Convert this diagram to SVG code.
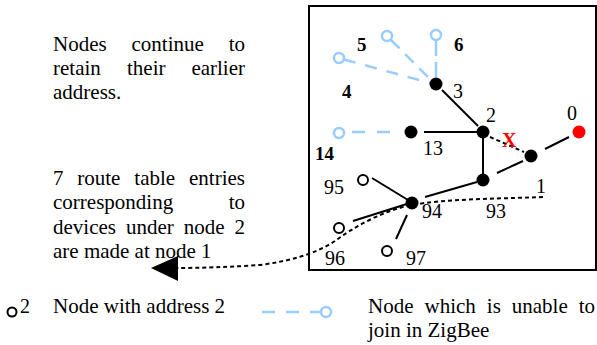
<svg xmlns="http://www.w3.org/2000/svg" width="597" height="345" viewBox="0 0 597 345">
<style>
.t,.n,.b,.x,.l{font-family:'Liberation Serif','Times New Roman',serif;fill:#000}
.t{font-size:21px}
.n{font-size:20px}
.l{font-size:20px}
.b{font-size:19px;font-weight:bold}
.x{font-size:20px;font-weight:bold;fill:#ff0000}
.e{stroke:#000;stroke-width:2;fill:none}
.dot{stroke:#000;stroke-width:2;fill:none;stroke-dasharray:4 3}
.blue{stroke:#99ccff;stroke-width:2.5;fill:none}
.bn{stroke:#99ccff;stroke-width:2.5;fill:#fff}
.on{stroke:#000;stroke-width:2;fill:#fff}
</style>
<rect x="309" y="6" width="287" height="264" fill="none" stroke="#000" stroke-width="2"/>

<g id="connectors">
<line class="e" x1="442" y1="90" x2="478" y2="126"/>
<line class="e" x1="424" y1="132" x2="477" y2="132"/>
<line class="e" x1="483" y1="138" x2="483" y2="174"/>
<line class="dot" x1="490" y1="137" x2="524" y2="152"/>
<line class="e" x1="545" y1="149" x2="569" y2="137"/>
<line class="e" x1="497" y1="173" x2="523" y2="161"/>
<line class="e" x1="425" y1="197" x2="477" y2="182"/>
<line class="e" x1="372" y1="178" x2="408" y2="200"/>
<line class="e" x1="353" y1="221" x2="410" y2="203"/>
<line class="e" x1="407" y1="215" x2="396" y2="239"/>
<line class="blue" x1="344" y1="59.5" x2="430" y2="83" stroke-dasharray="12 10"/>
<line class="blue" x1="391" y1="40" x2="430" y2="79" stroke-dasharray="12 8"/>
<line class="blue" x1="436" y1="41" x2="436" y2="77" stroke-dasharray="15 6"/>
<line class="blue" x1="352" y1="132" x2="400" y2="132" stroke-dasharray="13 12"/>
<path class="dot" d="M543,197 C490,199 445,199 412,205 C385,210 355,226 335,241 C315,254 290,261 260,265 C230,267 200,268 176,268"/>
<polygon points="151,268 178,256 178,281" fill="#000"/>
</g>

<g id="node-0"><circle cx="579" cy="132" r="6.5" fill="#ff0000"/><text class="n" x="567" y="120">0</text></g>
<g id="node-1"><circle cx="531" cy="156" r="6.5" fill="#000"/><text class="n" x="536" y="193">1</text></g>
<g id="node-2"><circle cx="483" cy="132" r="6.5" fill="#000"/><text class="n" x="486" y="122">2</text></g>
<g id="node-3"><circle cx="436" cy="84" r="6.5" fill="#000"/><text class="n" x="453" y="98">3</text></g>
<g id="node-13"><circle cx="411" cy="132" r="6.5" fill="#000"/><text class="n" x="423" y="155">13</text></g>
<g id="node-93"><circle cx="483" cy="180" r="6.5" fill="#000"/><text class="n" x="486" y="218">93</text></g>
<g id="node-94"><circle cx="412" cy="203" r="6.5" fill="#000"/><text class="n" x="422" y="218">94</text></g>
<g id="node-95"><circle class="on" cx="363" cy="180" r="5"/><text class="n" x="324" y="194">95</text></g>
<g id="node-96"><circle class="on" cx="339" cy="228" r="5"/><text class="n" x="325" y="265">96</text></g>
<g id="node-97"><circle class="on" cx="387" cy="251" r="5"/><text class="n" x="406" y="265">97</text></g>
<g id="node-4"><circle class="bn" cx="339" cy="58" r="5"/><text class="b" x="342" y="98">4</text></g>
<g id="node-5"><circle class="bn" cx="387" cy="36" r="5"/><text class="b" x="357" y="51">5</text></g>
<g id="node-6"><circle class="bn" cx="436" cy="35" r="5"/><text class="b" x="454" y="51">6</text></g>
<g id="node-14"><circle class="bn" cx="339" cy="133" r="5"/><text class="b" x="315" y="160">14</text></g>
<g id="break"><text class="x" x="502" y="147">X</text></g>

<g id="note-1">
<text class="t" x="53" y="51">Nodes</text><text class="t" x="131.5" y="51">continue</text><text class="t" x="245" y="51" text-anchor="end">to</text>
<text class="t" x="53" y="75">retain</text><text class="t" x="127" y="75">their</text><text class="t" x="245" y="75" text-anchor="end">earlier</text>
<text class="t" x="53" y="99">address.</text>
</g>
<g id="note-2">
<text class="t" x="53" y="185">7</text><text class="t" x="77.3" y="185">route</text><text class="t" x="134.3" y="185">table</text><text class="t" x="245" y="185" text-anchor="end">entries</text>
<text class="t" x="53" y="209">corresponding</text><text class="t" x="245" y="209" text-anchor="end">to</text>
<text class="t" x="53" y="234">devices</text><text class="t" x="126" y="234">under</text><text class="t" x="183.8" y="234">node</text><text class="t" x="245" y="234" text-anchor="end">2</text>
<text class="t" x="53" y="258">are made at node 1</text>
</g>

<g id="legend">
<circle class="on" cx="12" cy="312" r="4.5"/>
<text class="l" x="20" y="313">2</text>
<text class="t" x="53" y="313">Node with address 2</text>
<line class="blue" x1="262" y1="312" x2="321" y2="312" stroke-dasharray="13 11"/>
<circle class="bn" cx="326" cy="312" r="5"/>
<text class="t" x="368" y="313">Node</text><text class="t" x="424.5" y="313">which</text><text class="t" x="486.8" y="313">is</text><text class="t" x="511.8" y="313">unable</text><text class="t" x="595" y="313" text-anchor="end">to</text>
<text class="t" x="368" y="337">join in ZigBee</text>
</g>
</svg>
